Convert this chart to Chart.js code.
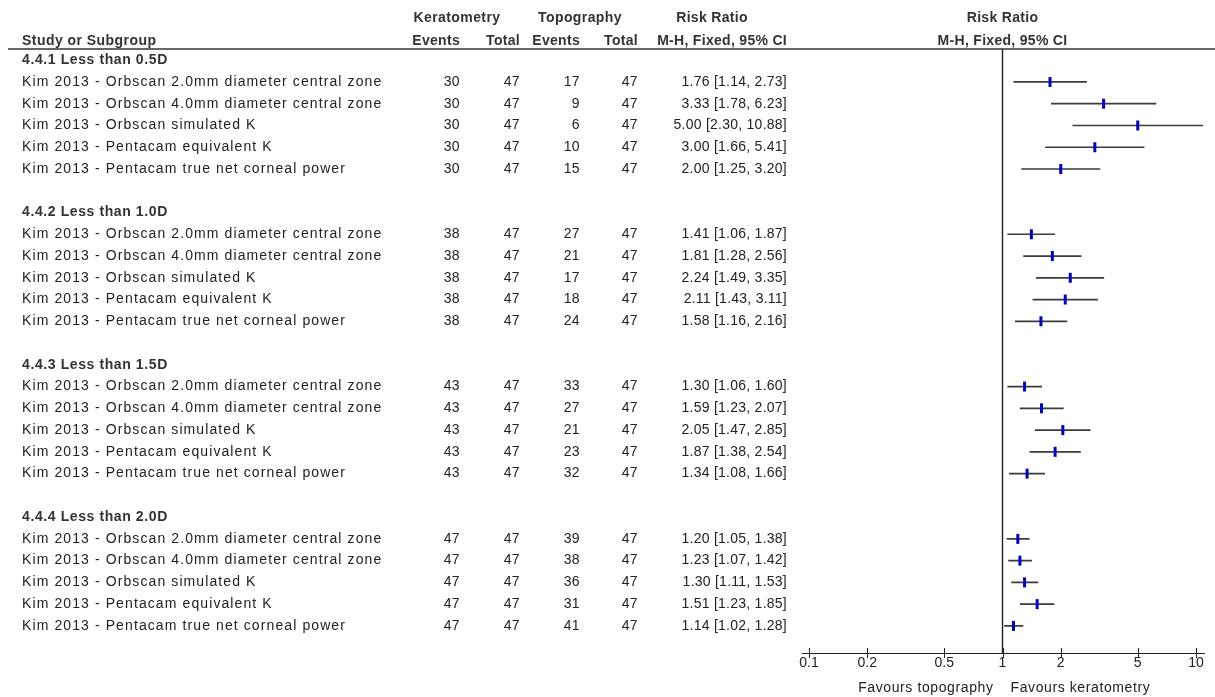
<!DOCTYPE html>
<html>
<head>
<meta charset="utf-8">
<script src="https://cdn.jsdelivr.net/npm/chart.js@4.4.1/dist/chart.umd.min.js"></script>
<style>
  html, body { margin: 0; padding: 0; background: #fff; }
  #forest { display: block; }
</style>
</head>
<body>
<canvas id="forest" width="1215" height="697"></canvas>
<script>
'use strict';

// ---- data ----
const subgroupTitles = ['4.4.1 Less than 0.5D', '4.4.2 Less than 1.0D', '4.4.3 Less than 1.5D', '4.4.4 Less than 2.0D'];
const studyNames = [
  'Kim 2013 - Orbscan 2.0mm diameter central zone',
  'Kim 2013 - Orbscan 4.0mm diameter central zone',
  'Kim 2013 - Orbscan simulated K',
  'Kim 2013 - Pentacam equivalent K',
  'Kim 2013 - Pentacam true net corneal power'
];
const keratometryEvents = [30, 30, 30, 30, 30, 38, 38, 38, 38, 38, 43, 43, 43, 43, 43, 47, 47, 47, 47, 47];
const keratometryTotal  = [47, 47, 47, 47, 47, 47, 47, 47, 47, 47, 47, 47, 47, 47, 47, 47, 47, 47, 47, 47];
const topographyEvents  = [17, 9, 6, 10, 15, 27, 21, 17, 18, 24, 33, 27, 21, 23, 32, 39, 38, 36, 31, 41];
const topographyTotal   = [47, 47, 47, 47, 47, 47, 47, 47, 47, 47, 47, 47, 47, 47, 47, 47, 47, 47, 47, 47];
const riskRatio = [1.76, 3.33, 5.00, 3.00, 2.00, 1.41, 1.81, 2.24, 2.11, 1.58, 1.30, 1.59, 2.05, 1.87, 1.34, 1.20, 1.23, 1.30, 1.51, 1.14];
const ciLow     = [1.14, 1.78, 2.30, 1.66, 1.25, 1.06, 1.28, 1.49, 1.43, 1.16, 1.06, 1.23, 1.47, 1.38, 1.08, 1.05, 1.07, 1.11, 1.23, 1.02];
const ciHigh    = [2.73, 6.23, 10.88, 5.41, 3.20, 1.87, 2.56, 3.35, 3.11, 2.16, 1.60, 2.07, 2.85, 2.54, 1.66, 1.38, 1.42, 1.53, 1.85, 1.28];
const axisTicks = [0.1, 0.2, 0.5, 1, 2, 5, 10];

// ---- layout ----
const ROWS_PER_GROUP = studyNames.length + 2;   // title + studies + blank line
const ROW_MIN = -0.515, ROW_MAX = 27.245;
const FONT = '"Liberation Sans", Arial, sans-serif';
const TEXT = '#222';

function rowOf(k) {
  const g = Math.floor(k / studyNames.length);
  return g * ROWS_PER_GROUP + 1 + (k % studyNames.length);
}

const markers = riskRatio.map((v, k) => ({ x: v, y: rowOf(k) }));
const ciSegments = [];
riskRatio.forEach((v, k) => {
  // gap point between segments so the line breaks
  ciSegments.push({ x: ciLow[k], y: rowOf(k) }, { x: ciHigh[k], y: rowOf(k) }, { x: null, y: null });
});

function fmt(v) { return v.toFixed(2); }

function txt(ctx, s, x, y, align, bold, spacing) {
  ctx.font = (bold ? 'bold ' : '') + '14px ' + FONT;
  ctx.textAlign = align;
  ctx.letterSpacing = spacing || '0px';
  ctx.fillText(s, x, y);
}

const forestText = {
  id: 'forestText',
  beforeDatasetsDraw(chart) {
    const { ctx, chartArea } = chart;
    ctx.save();
    ctx.strokeStyle = '#666';
    ctx.lineWidth = 2;
    ctx.beginPath();
    ctx.moveTo(8, chartArea.top);
    ctx.lineTo(chart.width, chartArea.top);
    ctx.stroke();
    ctx.restore();
  },
  afterDraw(chart) {
    const { ctx, chartArea } = chart;
    const ys = chart.scales.y, xs = chart.scales.x;
    ctx.save();
    ctx.textBaseline = 'middle';

    // column headings
    ctx.fillStyle = '#333';
    const h1 = chartArea.top - 31, h2 = chartArea.top - 8;
    txt(ctx, 'Keratometry', 457, h1, 'center', true, '0.4px');
    txt(ctx, 'Topography', 580, h1, 'center', true, '0.4px');
    txt(ctx, 'Risk Ratio', 712, h1, 'center', true, '0.3px');
    txt(ctx, 'Risk Ratio', xs.getPixelForValue(1), h1, 'center', true, '0.3px');
    txt(ctx, 'Study or Subgroup', 22, h2, 'left', true, '0.45px');
    txt(ctx, 'Events', 460, h2, 'right', true, '0.3px');
    txt(ctx, 'Total', 520, h2, 'right', true, '0.3px');
    txt(ctx, 'Events', 580, h2, 'right', true, '0.3px');
    txt(ctx, 'Total', 638, h2, 'right', true, '0.3px');
    txt(ctx, 'M-H, Fixed, 95% CI', 787, h2, 'right', true, '0.3px');
    txt(ctx, 'M-H, Fixed, 95% CI', xs.getPixelForValue(1), h2, 'center', true, '0.3px');

    // subgroup titles
    subgroupTitles.forEach((t, g) => {
      txt(ctx, t, 22, ys.getPixelForValue(g * ROWS_PER_GROUP), 'left', true, '0.6px');
    });

    // study rows
    ctx.fillStyle = TEXT;
    riskRatio.forEach((v, k) => {
      const y = ys.getPixelForValue(rowOf(k));
      txt(ctx, studyNames[k % studyNames.length], 22, y, 'left', false, '1.1px');
      txt(ctx, String(keratometryEvents[k]), 460, y, 'right', false, '0.4px');
      txt(ctx, String(keratometryTotal[k]), 520, y, 'right', false, '0.4px');
      txt(ctx, String(topographyEvents[k]), 580, y, 'right', false, '0.4px');
      txt(ctx, String(topographyTotal[k]), 638, y, 'right', false, '0.4px');
      txt(ctx, fmt(v) + ' [' + fmt(ciLow[k]) + ', ' + fmt(ciHigh[k]) + ']', 787, y, 'right', false, '0.25px');
    });

    // axis ticks (both sides) and slight axis overhang
    const ay = chartArea.bottom;
    ctx.strokeStyle = '#222';
    ctx.lineWidth = 1;
    ctx.beginPath();
    ctx.moveTo(chartArea.left - 7, ay + 0.5);
    ctx.lineTo(chartArea.right + 9, ay + 0.5);
    xs.ticks.forEach(t => {
      const px = Math.round(xs.getPixelForValue(t.value)) + 0.5;
      ctx.moveTo(px, ay - 5);
      ctx.lineTo(px, ay + 5);
    });
    ctx.stroke();

    const one = xs.getPixelForValue(1);
    txt(ctx, 'Favours topography', one - 9, ay + 35, 'right', false, '0.6px');
    txt(ctx, 'Favours keratometry', one + 8, ay + 35, 'left', false, '0.6px');
    ctx.restore();
  }
};

new Chart(document.getElementById('forest'), {
  type: 'scatter',
  data: {
    datasets: [
      {
        label: 'Risk ratio',
        data: markers,
        pointStyle: 'line',
        rotation: 90,
        radius: 5,
        borderWidth: 3,
        borderColor: '#0000c8',
        backgroundColor: '#0000c8',
        order: 1
      },
      {
        label: '95% CI',
        data: ciSegments,
        showLine: true,
        spanGaps: false,
        pointRadius: 0,
        borderWidth: 1.7,
        borderColor: '#3c3c3c',
        clip: false,
        order: 2
      },
      {
        label: 'No effect',
        data: [{ x: 1, y: ROW_MIN }, { x: 1, y: ROW_MAX }],
        showLine: true,
        pointRadius: 0,
        borderWidth: 1.4,
        borderColor: '#222',
        order: 3
      }
    ]
  },
  options: {
    responsive: false,
    animation: false,
    events: [],
    layout: { padding: { left: 809, right: 19, top: 49, bottom: 0 } },
    plugins: { legend: { display: false }, tooltip: { enabled: false } },
    scales: {
      x: {
        type: 'logarithmic',
        min: 0.1,
        max: 10,
        afterBuildTicks: scale => { scale.ticks = axisTicks.map(v => ({ value: v })); },
        afterFit: scale => { scale.height = 44; },
        grid: { display: false, drawTicks: false },
        border: { display: true, color: '#222', width: 1 },
        ticks: {
          autoSkip: false,
          maxRotation: 0,
          padding: 2,
          color: TEXT,
          font: { family: FONT, size: 14 },
          callback: v => String(v)
        }
      },
      y: {
        display: false,
        reverse: true,
        min: ROW_MIN,
        max: ROW_MAX
      }
    }
  },
  plugins: [forestText]
});
</script>
</body>
</html>
